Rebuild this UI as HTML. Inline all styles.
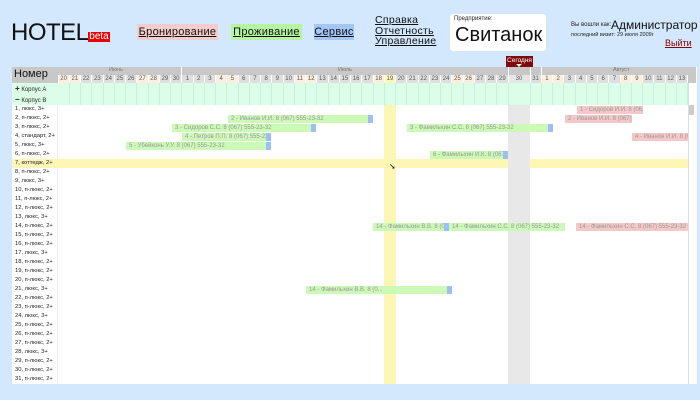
<!DOCTYPE html>
<html><head><meta charset="utf-8"><style>
body{margin:0;width:700px;height:400px;background:#d3e7fd;font-family:"Liberation Sans","DejaVu Sans",sans-serif;position:relative;overflow:hidden}
.a{position:absolute;white-space:nowrap}
.nav{position:absolute;top:24px;height:16px;font-size:11px;line-height:16px;text-align:center;text-decoration:underline;color:#111;letter-spacing:.3px}
.b{position:absolute;height:8px;font-size:6px;line-height:8px;color:#999;overflow:hidden;white-space:nowrap;padding-left:3px;box-sizing:border-box}
.g{background:#ccf8b8}.r{background:#f5c8c8}.bl{background:#9cc0f6}
</style></head><body>
<div class="a" style="left:11px;top:19px;font-size:24px;color:#111;letter-spacing:-0.5px">HOTEL</div>
<div class="a" style="left:88px;top:32px;width:22px;height:10px;background:#e00;color:#fff;font-size:10px;line-height:10px;text-align:center">beta</div>
<div class="nav" style="left:137px;width:81px;background:#f4cccc">Бронирование</div>
<div class="nav" style="left:231px;width:71px;background:#b6f5a0">Проживание</div>
<div class="nav" style="left:314px;width:40px;background:#a3c6f5">Сервис</div>
<div class="a" style="left:375px;top:15px;font-size:10.5px;line-height:10.5px;text-decoration:underline;color:#111;letter-spacing:.3px">Справка<br>Отчетность<br>Управление</div>
<div class="a" style="left:450px;top:14px;width:96px;height:37px;background:#fff;border-radius:3px"></div>
<div class="a" style="left:454px;top:16px;font-size:6px;color:#222">Предприятие:</div>
<div class="a" style="left:455px;top:24px;font-size:20px;color:#111">Свитанок</div>
<div class="a" style="left:571px;top:22px;font-size:6px;color:#222">Вы вошли как:</div>
<div class="a" style="left:611px;top:18px;font-size:12px;color:#111">Администратор</div>
<div class="a" style="left:571px;top:32px;font-size:5.5px;color:#222">последний визит: 29 июля 2009г</div>
<div class="a" style="left:665px;top:38px;font-size:9px;color:#800;text-decoration:underline">Выйти</div>
<div class="a" style="left:506px;top:56px;width:27px;height:11px;background:#7f0a0a;color:#fff;font-size:6.5px;text-align:center;line-height:9px">Сегодня</div>
<div class="a" style="left:516px;top:64px;width:0;height:0;border-left:3px solid transparent;border-right:3px solid transparent;border-top:3px solid #fff"></div>
<div id="t"></div>
<script>
var h='',t=document.getElementById('t');
function d(l,tp,w,ht,bg,x){h+='<div class="a" style="left:'+l+'px;top:'+tp+'px;width:'+w+'px;height:'+ht+'px;background:'+bg+';'+(x||'')+'"></div>';}
function tx(l,tp,s,fs,c,x){h+='<div class="a" style="left:'+l+'px;top:'+tp+'px;font-size:'+fs+'px;color:'+c+';'+(x||'')+'">'+s+'</div>';}
d(12,67,676,317,'#fff');
d(688,67,8,317,'#fff','border-left:1px solid #ddd');
d(689,105,5,10,'#ccc');
d(12,67,46,16,'#c8c8c8');tx(14,68,'Номер',11,'#111');
d(58,67,630,8,'#c8c8c8');
tx(109,67,'Июнь',5.5,'#777');tx(338,67,'Июль',5.5,'#777');tx(613,67,'Август',5.5,'#777');
d(181,67,1,8,'#fff');d(508,67,1,8,'#fff');d(530,67,1,8,'#fff');d(541,67,1,8,'#fff');
d(688,67,8,16,'#c8c8c8');
var cols=[];var x=58;
for(var i=0;i<55;i++){var w=11.25;if(i==40)w=22;var day;if(i<11)day=20+i;else if(i<42)day=i-10;else day=i-41;cols.push([x,w,day,i]);x+=w;}
d(12,83,676,22,'#dcfde8');
tx(15,84,'<b style="font-size:8px">+</b> Корпус А',6,'#222');
tx(15,95,'<b style="font-size:8px">−</b> Корпус В',6,'#222');
d(57,105,1,279,'#eee');
d(12,159,676,9,'#fdf6b4');
cols.forEach(function(c){if(c[0]>=688)return;var w=Math.min(c[1],688-c[0]);var we=(c[3]%7==0||c[3]%7==1);var bg=we?'#fdeee0':'#dedede';if(c[2]==19&&c[3]>10&&c[3]<42)bg='#fdf6b4';if(c[3]==40)bg='#e6e6e6';
d(c[0]+0.5,75,w-1,8,bg);
tx(c[0],75.5,c[2],6,'#555','width:'+w+'px;text-align:center');
d(c[0]+w-0.5,83,0.6,22,'#c8f0d8');
if(c[3]==29)d(c[0],105,w,279,'#fdf6b4');
if(c[3]==40)d(c[0],105,w,279,'#e8e8e8');
});
var names=['люкс, 3+','п-люкс, 2+','п-люкс, 2+','стандарт, 2+','люкс, 3+','п-люкс, 2+','коттедж, 2+','п-люкс, 2+','люкс, 3+','п-люкс, 2+','п-люкс, 2+','п-люкс, 2+','люкс, 3+','п-люкс, 2+','п-люкс, 2+','п-люкс, 2+','люкс, 3+','п-люкс, 2+','п-люкс, 2+','п-люкс, 2+','люкс, 3+','п-люкс, 2+','п-люкс, 2+','люкс, 3+','п-люкс, 2+','п-люкс, 2+','п-люкс, 2+','люкс, 3+','п-люкс, 2+','п-люкс, 2+','п-люкс, 2+'];
for(var r=0;r<31;r++)tx(15,105+r*9+1,(r+1)+', '+names[r],5.8,'#222');
function bk(row,l,rr,cls,s,blue){var y=105+(row-1)*9+0.5;h+='<div class="b '+cls+'" style="left:'+l+'px;top:'+y+'px;width:'+(rr-l)+'px">'+s+'</div>';if(blue)d(rr-5,y,5,8,'#9cc0f6');}
bk(2,228,373,'g','2 - Иванов И.И. 8 (067) 555-23-32',1);
bk(3,172,316,'g','3 - Сидоров С.С. 8 (067) 555-23-32',1);
bk(3,407,553,'g','3 - Фамильхин С.С. 8 (067) 555-23-32',1);
bk(4,182,271,'g','4 - Петров П.П. 8 (067) 555-23 ...',1);
bk(5,126,271,'g','5 - Убейконь У.У. 8 (067) 555-23-32',1);
bk(6,430,508,'g','6 - Фамильхин И.К. 8 (067 ...',1);
bk(1,577,643,'r','1 - Сидоров И.И. 8 (06...',0);
bk(2,565,632,'r','2 - Иванов И.И. 8 (067)...',0);
bk(4,632,688,'r','4 - Иванов И.И. 8 (06',0);
bk(14,373,449,'g','14 - Фамильхин В.В. 8 (0...',1);
bk(14,449,565,'g','14 - Фамильхин С.С. 8 (067) 555-23-32',0);
bk(14,576,688,'r','14 - Фамильхин С.С. 8 (067) 555-23-32',0);
bk(21,306,452,'g','14 - Фамильхин В.В. 8 (0...',1);
t.innerHTML=h;
</script>
<div class="a" style="left:389px;top:162px;font-size:8px;color:#111">➘</div>
</body></html>
